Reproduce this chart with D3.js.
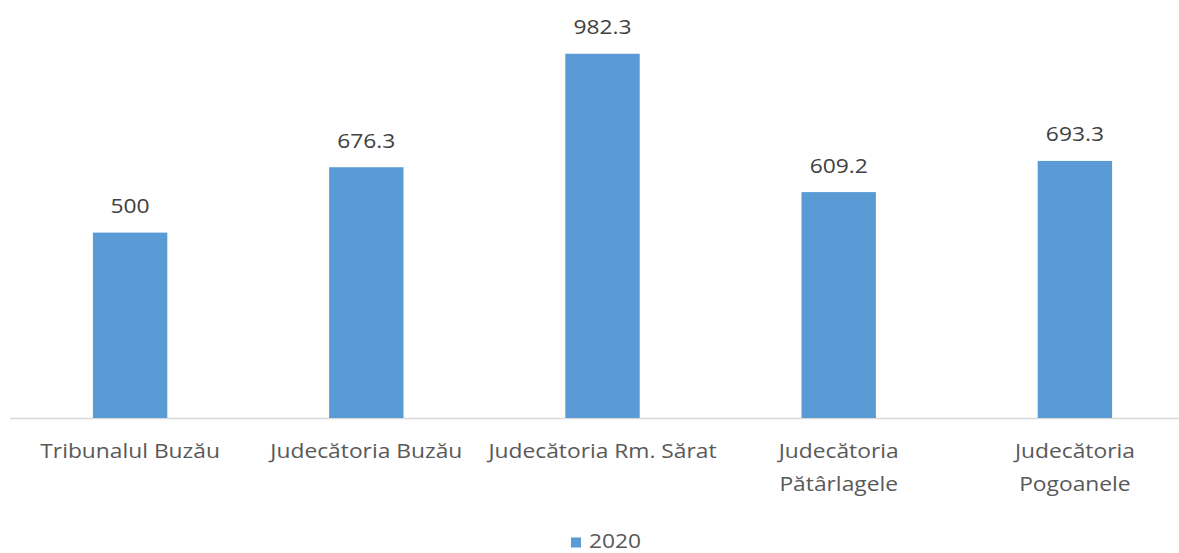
<!DOCTYPE html>
<html><head><meta charset="utf-8">
<script src="https://cdn.jsdelivr.net/npm/d3@7"></script>
<style>
html,body{margin:0;padding:0;background:#fff;}
svg{display:block;font-family:"Open Sans", sans-serif;}
</style></head>
<body>
<svg id="c" width="1179" height="553"></svg>
<script>
const categories = ["Tribunalul Buzău","Judecătoria Buzău","Judecătoria Rm. Sărat","Judecătoria Pătârlagele","Judecătoria Pogoanele"];
const tickLabels = [["Tribunalul Buzău"],["Judecătoria Buzău"],["Judecătoria Rm. Sărat"],["Judecătoria","Pătârlagele"],["Judecătoria","Pogoanele"]];
const values2020 = [500, 676.3, 982.3, 609.2, 693.3];
const valueLabels = ["500","676.3","982.3","609.2","693.3"];
const seriesName = "2020";

const svg = d3.select("#c");
const base = 418;
const sx = 1.14;
const x = d3.scaleBand().domain(categories).range([12, 1193]).paddingInner(0.685).paddingOuter(0.3425);
const y = d3.scaleLinear().domain([0, 1000]).range([base, base - 370.8]);
const color = "#5B9BD5";

svg.append("line").attr("x1", 10).attr("x2", 1179).attr("y1", base + 0.5).attr("y2", base + 0.5)
  .attr("stroke", "#D9D9D9").attr("stroke-width", 1.3);

svg.selectAll("rect.bar").data(values2020).join("rect").attr("class","bar")
  .attr("x", (d,i) => x(categories[i]))
  .attr("width", x.bandwidth())
  .attr("y", d => y(d))
  .attr("height", d => base - y(d))
  .attr("fill", color);

svg.selectAll("text.val").data(values2020).join("text").attr("class","val")
  .attr("transform", (d,i) => `translate(${x(categories[i]) + x.bandwidth()/2},${y(d) - 19.5}) scale(${sx},1)`)
  .attr("text-anchor","middle")
  .attr("font-size", 20)
  .attr("fill", "#404040")
  .text((d,i) => valueLabels[i]);

const tg = svg.selectAll("g.tick").data(categories).join("g").attr("class","tick")
  .attr("transform", d => `translate(${x(d) + x.bandwidth()/2},0)`);
tg.each(function(d,i){
  const g = d3.select(this);
  tickLabels[i].forEach((line, j) => {
    g.append("text").attr("transform", `translate(0,${458 + j*33}) scale(${sx},1)`)
      .attr("text-anchor","middle").attr("font-size", 20).attr("fill", "#595959").text(line);
  });
});

const lg = svg.append("g");
lg.append("rect").attr("x", 571).attr("y", 537.5).attr("width", 10).attr("height", 10).attr("fill", color);
lg.append("text").attr("transform", `translate(589,548) scale(${sx},1)`).attr("font-size", 20).attr("fill", "#595959").text(seriesName);
</script>
</body></html>
